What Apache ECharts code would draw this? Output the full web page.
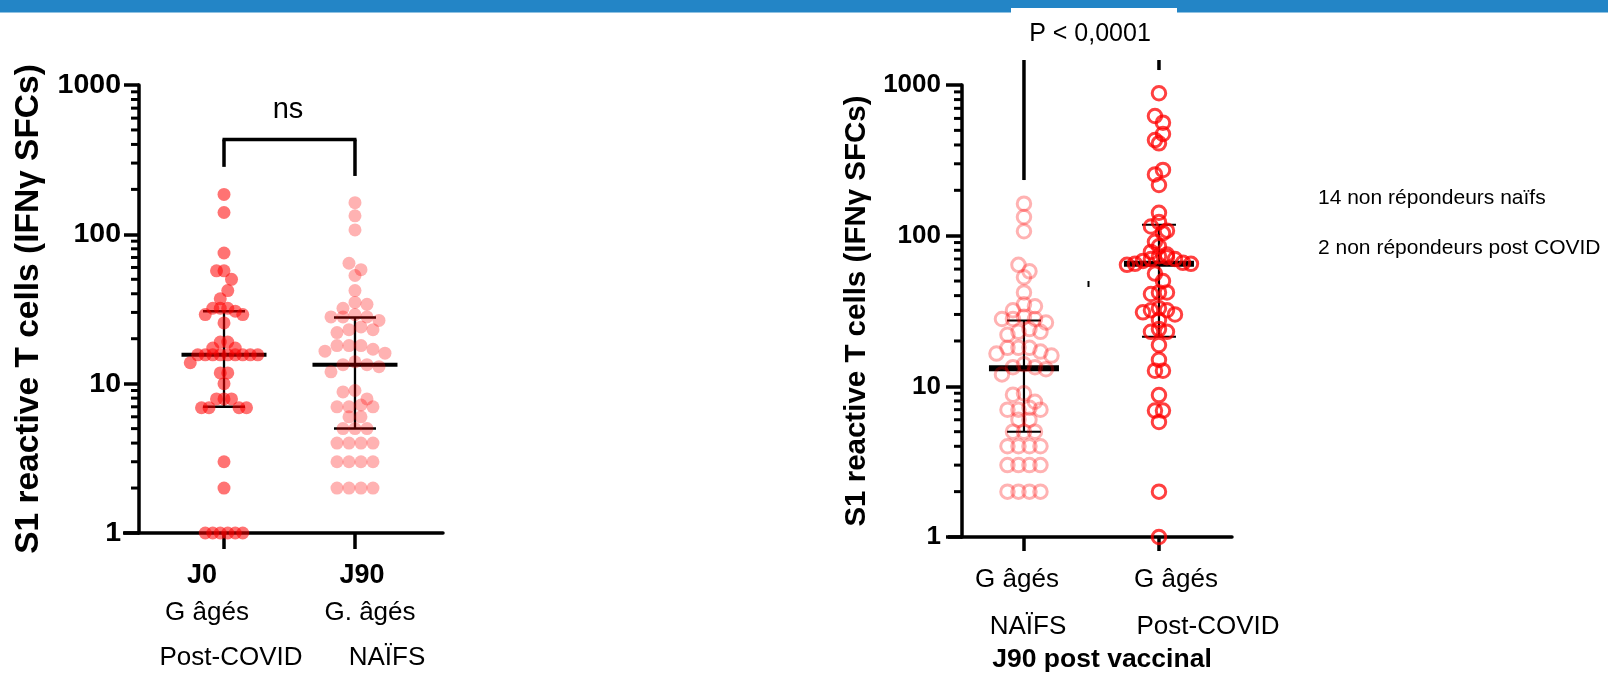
<!DOCTYPE html>
<html><head><meta charset="utf-8">
<script src="https://cdn.jsdelivr.net/npm/echarts@6/dist/echarts.min.js"></script>
<style>html,body{margin:0;padding:0;background:#fff;}#c{width:1608px;height:673px;}</style>
</head><body><div id="c"></div>
<script>
// ---------- data ----------
const leftCategories = ['J0', 'J90'];
const leftSub1 = ['G âgés', 'G. âgés'];
const leftSub2 = ['Post-COVID', 'NAÏFS'];
const rightCategories = ['G âgés', 'G âgés'];
const rightSub = ['NAÏFS', 'Post-COVID'];
const rightAxisName = 'J90 post vaccinal';
const yTitle = 'S1 reactive T cells (IFNγ SFCs)';
const yTicks = [1, 10, 100, 1000];
const minorTicks = [2,3,4,5,6,7,8,9,20,30,40,50,60,70,80,90,200,300,400,500,600,700,800,900];

const j0PostCovid = [185, 140, 75, 57, 57, 50, 42, 37, 32, 32, 32, 30.6, 29, 29, 25.5, 19, 19, 17.3, 17.3,
  15.6, 15.6, 15.6, 15.6, 15.6, 15.6, 15.6, 15.6, 15.6, 13.8, 11.8, 11.8, 10, 7.9, 7.9, 7.9,
  6.9, 6.9, 6.9, 6.9, 3, 2, 1, 1, 1, 1, 1, 1];
const j90Naifs = [163, 133, 107, 64, 58, 53, 42, 35, 34, 32, 29, 28, 28, 28, 26.5, 24, 23, 23, 22,
  18, 18, 18, 17, 16.5, 16, 14, 13.4, 13.4, 13, 12, 9, 8.8, 7.9, 7.2, 7, 7, 7, 6, 6, 5, 5, 5,
  4, 4, 4, 4, 3, 3, 3, 3, 2, 2, 2, 2];
const j90PostCovid = [881, 623, 562, 473, 431, 410, 273, 255, 217, 142, 123, 115, 108, 104, 91, 85,
  78, 75, 73, 72, 70, 70, 68, 66, 65, 65, 64, 56, 50, 42, 42, 41, 33, 32, 32, 31, 30, 27.6,
  24, 23, 23, 18.8, 15, 12.7, 12.7, 8.75, 6.9, 6.9, 5.8, 2, 1];

const leftMedian = [15.6, 13.4];
const leftQ1 = [7, 5];
const leftQ3 = [30.6, 27.7];
const rightMedian = [13.2, 65];
const rightQ1 = [5, 21.3];
const rightQ3 = [27.3, 118];

const pLabel = 'P < 0,0001';
const nsLabel = 'ns';
const notes = ['14 non répondeurs naïfs', '2 non répondeurs post COVID'];

// ---------- layout ----------
const FONT = '"Liberation Sans", Arial, Helvetica, sans-serif';
const LX = {min: -0.649, max: 1.672};
const RX = {min: -0.459, max: 1.541};

const chart = echarts.init(document.getElementById('c'));

function yAxis(gi, labelSize, nameSize, nameGap, tickLen, margin) {
  return {
    type: 'log', logBase: 10, min: 1, max: 1000, gridIndex: gi,
    axisLine: {show: true, onZero: false, lineStyle: {color: '#000', width: 3.5}},
    axisTick: {show: true, length: tickLen, lineStyle: {color: '#000', width: 3.5}},
    axisLabel: {color: '#000', fontFamily: FONT, fontWeight: 'bold', fontSize: labelSize, margin: margin,
      formatter: v => String(Math.round(v))},
    splitLine: {show: false}, minorTick: {show: false},
    name: yTitle, nameLocation: 'middle', nameGap: nameGap,
    nameTextStyle: {color: '#000', fontFamily: FONT, fontWeight: 'bold', fontSize: nameSize}
  };
}
function xAxis(gi, ext, tickLen) {
  return {
    type: 'value', gridIndex: gi, min: ext.min, max: ext.max,
    axisLine: {show: true, onZero: false, lineStyle: {color: '#000', width: 3.5}},
    axisTick: {show: true, customValues: [0, 1], length: tickLen, lineStyle: {color: '#000', width: 3.5}},
    axisLabel: {show: false}, splitLine: {show: false}
  };
}
function L(x1, y1, x2, y2, w) {
  return {type: 'line', shape: {x1, y1, x2, y2}, style: {stroke: '#000', lineWidth: w}};
}
function errSeries(gi, med, q1, q3, st) {
  return {
    type: 'custom', xAxisIndex: gi, yAxisIndex: gi, z: 2, silent: true, clip: false,
    data: med.map((m, i) => [i, m, q1[i], q3[i]]),
    renderItem: (params, api) => {
      const x = api.value(0);
      const pm = api.coord([x, api.value(1)]), pl = api.coord([x, api.value(2)]), pu = api.coord([x, api.value(3)]);
      return {type: 'group', children: [
        L(pm[0], pl[1], pm[0], pu[1], st.v),
        L(pm[0] - st.ww / 2, pl[1], pm[0] + st.ww / 2, pl[1], st.w),
        L(pm[0] - st.ww / 2, pu[1], pm[0] + st.ww / 2, pu[1], st.w),
        L(pm[0] - st.mw / 2, pm[1], pm[0] + st.mw / 2, pm[1], st.m)
      ]};
    }
  };
}
function minorSeries(gi, xmin) {
  return {
    type: 'custom', xAxisIndex: gi, yAxisIndex: gi, silent: true, clip: false, z: 1,
    data: minorTicks.map(v => [xmin, v]),
    renderItem: (p, api) => {
      const c = api.coord([api.value(0), api.value(1)]);
      return L(c[0] - 8, c[1], c[0], c[1], 3);
    }
  };
}
function extSeries(gi, xmin, len) {
  return {
    type: 'custom', xAxisIndex: gi, yAxisIndex: gi, silent: true, clip: false, z: 1,
    data: [[xmin, 1]],
    renderItem: (p, api) => {
      const c = api.coord([api.value(0), api.value(1)]);
      return L(c[0] - len, c[1], c[0], c[1], 3.5);
    }
  };
}
// bracket: [catIndex, topValue, legEndValue]
function bracketSeries(gi, legs, horiz) {
  return {
    type: 'custom', xAxisIndex: gi, yAxisIndex: gi, silent: true, clip: false, z: 2,
    data: legs,
    renderItem: (p, api) => {
      const a = api.coord([api.value(0), api.value(1)]);
      const b = api.coord([api.value(0), api.value(2)]);
      const ch = [L(a[0], a[1], b[0], b[1], 3.5)];
      if (horiz && p.dataIndex === 0) {
        const o = api.coord([1, api.value(1)]);
        ch.push(L(a[0] - 1.5, a[1], o[0] + 1.5, o[1], 3.5));
      }
      return {type: 'group', children: ch};
    }
  };
}

const textEl = (x, y, text, size, bold, align) => ({
  type: 'text', x, y, silent: true,
  style: {text, fill: '#000', font: (bold ? 'bold ' : '') + size + 'px ' + FONT,
    textAlign: align || 'center', textVerticalAlign: 'middle', align: align || 'center', verticalAlign: 'middle'}
});

const base = {
  animation: false,
  backgroundColor: '#fff',
  grid: [
    {left: 139, top: 85, width: 304, height: 448, containLabel: false, outerBoundsMode: 'none'},
    {left: 962, top: 85, width: 270, height: 452, containLabel: false, outerBoundsMode: 'none'}
  ],
  xAxis: [xAxis(0, LX, 16), xAxis(1, RX, 14)],
  yAxis: [yAxis(0, 28.5, 33.5, 93, 15, 18), yAxis(1, 26, 29.5, 90, 16, 21)],
  graphic: [
    {type: 'rect', shape: {x: 0, y: 0, width: 1608, height: 12.5}, style: {fill: '#2385c6'}, silent: true},
    {type: 'rect', shape: {x: 1011, y: 8, width: 166, height: 5}, style: {fill: '#fff'}, silent: true},
    {type: 'line', shape: {x1: 1088.5, y1: 281, x2: 1088.5, y2: 287}, style: {stroke: '#000', lineWidth: 2}, silent: true},
    textEl(288, 110, nsLabel, 29, false),
    textEl(1090, 34, pLabel, 25, false),
    textEl(1318, 198, notes[0], 21, false, 'left'),
    textEl(1318, 248, notes[1], 21, false, 'left'),
    textEl(202, 576, leftCategories[0], 27, true),
    textEl(207, 613, leftSub1[0], 26, false),
    textEl(231, 658, leftSub2[0], 26, false),
    textEl(362, 576, leftCategories[1], 27, true),
    textEl(370, 613, leftSub1[1], 26, false),
    textEl(387, 658, leftSub2[1], 26, false),
    textEl(1017, 580, rightCategories[0], 26, false),
    textEl(1176, 580, rightCategories[1], 26, false),
    textEl(1028, 627, rightSub[0], 26, false),
    textEl(1208, 627, rightSub[1], 26, false),
    textEl(1102, 660, rightAxisName, 26.5, true)
  ],
  series: [
    minorSeries(0, LX.min), minorSeries(1, RX.min),
    extSeries(0, LX.min, 16), extSeries(1, RX.min, 14),
    errSeries(0, leftMedian, leftQ1, leftQ3, {v: 2.3, w: 2.5, ww: 42, m: 4, mw: 85}),
    errSeries(1, rightMedian, rightQ1, rightQ3, {v: 2.2, w: 2, ww: 34, m: 6, mw: 70}),
    bracketSeries(0, [[0, 432, 283], [1, 432, 246]], true),
    bracketSeries(1, [[0, 1465, 234], [1, 1465, 1257]], false)
  ]
};
chart.setOption(base);

// Row-binned scatter layout (GraphPad style), computed through the axes' scales.
function swarm(values, gi, cat, s, h) {
  const cx = chart.convertToPixel({gridIndex: gi}, [cat, 10])[0];
  const pts = values.map(v => ({v, y: chart.convertToPixel({gridIndex: gi}, [cat, v])[1]}));
  pts.sort((a, b) => b.v - a.v);
  const rows = [];
  let cur = null;
  for (const p of pts) {
    if (!cur || p.y - cur[0].y > h) { cur = [p]; rows.push(cur); } else cur.push(p);
  }
  const out = [];
  rows.forEach((row, ri) => {
    const n = row.length;
    const slots = [];
    for (let i = 0; i < n; i++) slots.push((i - (n - 1) / 2) * s);
    slots.sort((a, b) => Math.abs(a) - Math.abs(b) || (ri % 2 ? a - b : b - a));
    row.forEach((p, i) => {
      out.push([chart.convertFromPixel({gridIndex: gi}, [cx + slots[i], p.y])[0], p.v]);
    });
  });
  return out;
}

const scat = (gi, data, size, style) => ({
  type: 'scatter', xAxisIndex: gi, yAxisIndex: gi, z: 3, clip: false, silent: true,
  symbol: 'circle', symbolSize: size, data, itemStyle: Object.assign({opacity: 1}, style)
});

chart.setOption({
  series: base.series.concat([
    scat(0, swarm(j0PostCovid, 0, 0, 7.5, 9), 13, {color: 'rgba(255,0,0,0.55)'}),
    scat(0, swarm(j90Naifs, 0, 1, 12, 11), 13, {color: 'rgba(255,0,0,0.3)'}),
    scat(1, swarm(j90Naifs, 1, 0, 11, 11), 13.5, {color: 'rgba(0,0,0,0)', borderColor: 'rgba(255,0,0,0.3)', borderWidth: 3}),
    scat(1, swarm(j90PostCovid, 1, 1, 8, 9), 13.5, {color: 'rgba(0,0,0,0)', borderColor: 'rgba(255,0,0,0.75)', borderWidth: 3})
  ])
});
</script></body></html>
